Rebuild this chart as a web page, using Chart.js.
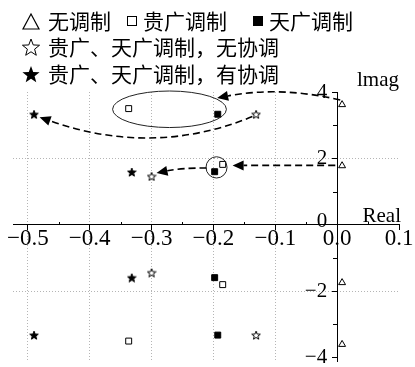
<!DOCTYPE html>
<html>
<head>
<meta charset="utf-8">
<script src="https://cdn.jsdelivr.net/npm/chart.js@4.4.1/dist/chart.umd.min.js"></script>
<style>
body { margin: 0; background: #fff; }
</style>
</head>
<body>
<canvas id="poleChart" width="415" height="367"></canvas>
<script>
// series names (legend)
const seriesNames = ['无调制', '贵广调制', '天广调制', '贵广、天广调制，无协调', '贵广、天广调制，有协调'];

// poles: real part / imaginary part
const noModX = [0.008, 0.008, 0.008, 0.008];
const noModY = [3.62, 1.78, -1.74, -3.6];
const guiX = [-0.337, -0.185, -0.185, -0.337];
const guiY = [3.5, 1.82, -1.8, -3.5];
const tianX = [-0.193, -0.198, -0.198, -0.193];
const tianY = [3.33, 1.6, -1.59, -3.32];
const noCoordX = [-0.131, -0.3, -0.3, -0.131];
const noCoordY = [3.33, 1.46, -1.44, -3.32];
const coordX = [-0.49, -0.332, -0.332, -0.49];
const coordY = [3.33, 1.59, -1.59, -3.32];

// axis ticks
const xTicks = [-0.5, -0.4, -0.3, -0.2, -0.1, 0, 0.1];
const xMinor = [-0.45, -0.35, -0.25, -0.15, -0.05, 0.05];
const yTicks = [-4, -2, 0, 2, 4];
const yMinor = [-3, -1, 1, 3];
const xGrid = [-0.5, -0.4, -0.3, -0.2, -0.1];
const yGrid = [-2, 2];

// annotations in data units
// ovals: [cx, cy, rx, ry]
const ovals = [[-0.271, 3.48, 0.092, 0.55], [-0.195, 1.73, 0.017, 0.32]];
// arrows: [x0, y0, ctrlX, ctrlY, x1, y1]  (head at x1,y1)
const arrows = [
  [0.005, 3.76, -0.092, 4.18, -0.194, 3.82],
  [-0.137, 3.26, -0.297, 2.04, -0.481, 3.24],
  [-0.003, 1.79, -0.086, 1.79, -0.169, 1.79],
  [-0.211, 1.71, -0.25, 1.72, -0.292, 1.56]
];

function pts(xs, ys) {
  return xs.map((x, i) => ({ x: x, y: ys[i] }));
}

function starPath(g, cx, cy, R) {
  const r = R * 0.42;
  g.beginPath();
  for (let i = 0; i < 10; i++) {
    const a = -Math.PI / 2 + i * Math.PI / 5;
    const rad = i % 2 ? r : R;
    g.lineTo(cx + rad * Math.cos(a), cy + rad * Math.sin(a));
  }
  g.closePath();
}

function starImage(size, filled) {
  const c = document.createElement('canvas');
  c.width = size; c.height = size;
  const g = c.getContext('2d');
  starPath(g, size / 2, size / 2 + 0.5, size / 2 - 0.5);
  g.fillStyle = filled ? '#000' : '#fff';
  g.fill();
  g.lineWidth = 1;
  g.strokeStyle = '#000';
  g.stroke();
  return c;
}

Chart.defaults.font.family = '"Liberation Serif", "Times New Roman", serif';
Chart.defaults.color = '#000';

function fmt(v, dec) {
  let s = Math.abs(v).toFixed(dec);
  return (v < -1e-9 ? '\u2212' : '') + s;
}

function noPad(scale) {
  scale.paddingLeft = 0; scale.paddingRight = 0;
  scale.paddingTop = 0; scale.paddingBottom = 0;
}

const extras = {
  id: 'extras',
  afterDatasetsDraw(chart) {
    const ctx = chart.ctx;
    const xs = chart.scales.x, ys = chart.scales.y;
    const px = v => xs.getPixelForValue(v);
    const py = v => ys.getPixelForValue(v);
    ctx.save();

    // minor ticks
    ctx.strokeStyle = '#000';
    ctx.lineWidth = 1;
    const x0 = px(0), y0 = py(0);
    xMinor.forEach(v => {
      ctx.beginPath();
      ctx.moveTo(Math.round(px(v)) + 0.5, Math.round(y0) - 3);
      ctx.lineTo(Math.round(px(v)) + 0.5, Math.round(y0));
      ctx.stroke();
    });
    yMinor.forEach(v => {
      ctx.beginPath();
      ctx.moveTo(Math.round(x0) - 4, Math.round(py(v)) + 0.5);
      ctx.lineTo(Math.round(x0), Math.round(py(v)) + 0.5);
      ctx.stroke();
    });

    // y tick labels, left of the axis
    ctx.fillStyle = '#000';
    ctx.font = '21px "Liberation Serif"';
    ctx.textAlign = 'right';
    ctx.textBaseline = 'middle';
    yTicks.forEach(v => {
      const dy = v === 0 ? -3 : 0;
      ctx.fillText(fmt(v, 0), x0 - 10, py(v) + dy);
    });

    // ovals
    ctx.strokeStyle = '#222';
    ctx.lineWidth = 1;
    ovals.forEach(o => {
      const cx = px(o[0]), cy = py(o[1]);
      const rx = Math.abs(px(o[0] + o[2]) - cx), ry = Math.abs(py(o[1] + o[3]) - cy);
      ctx.beginPath();
      ctx.ellipse(cx, cy, rx, ry, 0, 0, Math.PI * 2);
      ctx.stroke();
    });

    // dashed arrows
    arrows.forEach(a => {
      const sx = px(a[0]), sy = py(a[1]);
      const cx = px(a[2]), cy = py(a[3]);
      const ex = px(a[4]), ey = py(a[5]);
      const ang = Math.atan2(ey - cy, ex - cx);
      const head = 11, half = 5;
      const bx = ex - head * Math.cos(ang), by = ey - head * Math.sin(ang);
      ctx.setLineDash([7, 4]);
      ctx.lineWidth = 1.6;
      ctx.strokeStyle = '#000';
      ctx.beginPath();
      ctx.moveTo(sx, sy);
      ctx.quadraticCurveTo(cx, cy, bx, by);
      ctx.stroke();
      ctx.setLineDash([]);
      ctx.beginPath();
      ctx.moveTo(ex, ey);
      ctx.lineTo(bx + half * Math.sin(ang), by - half * Math.cos(ang));
      ctx.lineTo(bx - half * Math.sin(ang), by + half * Math.cos(ang));
      ctx.closePath();
      ctx.fillStyle = '#000';
      ctx.fill();
    });

    // axis names
    ctx.fillStyle = '#000';
    ctx.font = '21px "Liberation Serif"';
    ctx.textAlign = 'right';
    ctx.textBaseline = 'alphabetic';
    ctx.fillText('Real', 401, 222);
    ctx.fillText('lmag', 399, 86);

    // legend
    ctx.font = '21px "Noto Sans CJK SC"';
    ctx.textAlign = 'left';
    ctx.textBaseline = 'middle';
    const rows = [21, 47, 74];
    ctx.lineWidth = 1.2;
    ctx.beginPath();
    ctx.moveTo(23, 29); ctx.lineTo(39, 29); ctx.lineTo(31, 14); ctx.closePath();
    ctx.stroke();
    ctx.fillText(seriesNames[0], 48, rows[0]);
    ctx.lineWidth = 1;
    ctx.strokeRect(127.5, 16.5, 9, 9);
    ctx.fillText(seriesNames[1], 143, rows[0]);
    ctx.fillRect(253, 16, 10, 10);
    ctx.fillText(seriesNames[2], 269, rows[0]);
    starPath(ctx, 31, rows[1] + 1, 9);
    ctx.lineWidth = 1;
    ctx.stroke();
    ctx.fillText(seriesNames[3], 48, rows[1]);
    starPath(ctx, 31, rows[2] + 1, 9);
    ctx.fill();
    ctx.fillText(seriesNames[4], 48, rows[2]);

    ctx.restore();
  }
};

const starOpen = starImage(10, false);
const starFilled = starImage(10, true);

new Chart(document.getElementById('poleChart'), {
  type: 'scatter',
  data: {
    datasets: [
      { label: seriesNames[0], data: pts(noModX, noModY), pointStyle: 'triangle', pointRadius: 4,
        backgroundColor: '#fff', borderColor: '#000', borderWidth: 1 },
      { label: seriesNames[1], data: pts(guiX, guiY), pointStyle: 'rect', pointRadius: 4.2,
        backgroundColor: '#fff', borderColor: '#000', borderWidth: 1 },
      { label: seriesNames[2], data: pts(tianX, tianY), pointStyle: 'rect', pointRadius: 4.2,
        backgroundColor: '#000', borderColor: '#000', borderWidth: 1 },
      { label: seriesNames[3], data: pts(noCoordX, noCoordY), pointStyle: starOpen, pointRadius: 5 },
      { label: seriesNames[4], data: pts(coordX, coordY), pointStyle: starFilled, pointRadius: 5 }
    ]
  },
  options: {
    responsive: false,
    animation: false,
    devicePixelRatio: 1,
    layout: { padding: { top: 92, left: 13, right: 16, bottom: 0 } },
    plugins: { legend: { display: false }, tooltip: { enabled: false } },
    scales: {
      x: {
        type: 'linear',
        min: -0.524,
        max: 0.1,
        position: { y: 0 },
        afterBuildTicks: s => { s.ticks = xTicks.map(v => ({ value: v })); },
        afterFit: noPad,
        grid: {
          color: c => xGrid.some(v => Math.abs(v - c.tick.value) < 1e-6) ? '#b5b5b5' : 'rgba(0,0,0,0)',
          tickColor: '#000',
          tickLength: 5,
          tickBorderDash: [],
          lineWidth: 1
        },
        border: { display: true, color: '#000', width: 1, dash: [1, 2] },
        ticks: {
          font: { size: 23, lineHeight: 1 },
          padding: -2,
          maxRotation: 0,
          autoSkip: false,
          callback: v => fmt(v, 1)
        }
      },
      y: {
        type: 'linear',
        min: -4.1,
        max: 4,
        position: { x: 0 },
        afterBuildTicks: s => { s.ticks = yTicks.map(v => ({ value: v })); },
        afterFit: noPad,
        grid: {
          color: c => yGrid.some(v => Math.abs(v - c.tick.value) < 1e-6) ? '#b5b5b5' : 'rgba(0,0,0,0)',
          tickColor: '#000',
          tickLength: 5,
          tickBorderDash: [],
          lineWidth: 1
        },
        border: { display: true, color: '#000', width: 1, dash: [1, 2] },
        ticks: {
          display: false,
          callback: v => fmt(v, 0)
        }
      }
    }
  },
  plugins: [extras]
});
</script>
</body>
</html>
